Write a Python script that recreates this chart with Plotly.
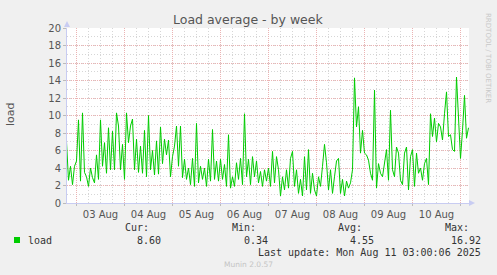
import plotly.graph_objects as go
import pandas as pd

# ---- data (hourly load average) ----
start_time = "2025-08-02 19:00"
load = [
    7.0, 2.6, 4.2, 2.1, 4.2,
    4.8, 9.5, 2.5, 10.3, 3.5, 3.0, 1.9, 4.0, 2.9, 2.3, 5.5, 2.7,
    9.5, 4.2, 6.9, 3.4, 8.6, 3.8, 8.2, 3.8, 10.3, 8.8, 3.8, 6.7,
    2.7, 10.3, 6.9, 8.8, 9.6, 3.8, 7.3, 3.5, 6.5, 3.4, 8.3, 3.0,
    10.0, 3.8, 6.0, 3.2, 7.1, 3.3, 8.7, 4.5, 7.3, 5.5, 7.2, 3.0,
    5.3, 6.5, 8.8, 4.2, 8.8, 2.9, 5.0, 2.7, 4.0, 2.1, 5.1, 1.9,
    9.1, 2.3, 4.2, 2.7, 4.0, 1.9, 5.0, 2.5, 8.4, 2.7, 4.8, 2.5,
    5.0, 2.7, 4.4, 1.9, 7.8, 1.7, 3.0, 1.9, 4.6, 2.7, 5.1, 2.1,
    10.2, 3.0, 5.0, 2.1, 5.3, 3.0, 4.8, 2.3, 3.6, 1.9, 3.8, 2.5,
    4.0, 1.9, 5.9, 2.3, 5.3, 3.8, 0.8, 3.0, 1.5, 3.8, 1.7, 5.1,
    5.9, 1.9, 3.8, 1.1, 2.7, 0.8, 5.3, 1.5, 6.1, 1.1, 3.4, 1.5,
    0.8, 3.0, 1.9, 4.2, 6.7, 4.6, 1.5, 3.8, 1.1, 3.0, 4.8, 5.1,
    1.1, 2.7, 0.8, 2.5, 1.7, 2.3, 3.8, 14.3, 8.7, 11.0, 5.7, 8.3,
    5.7, 5.5, 4.9, 3.4, 2.6, 12.9, 1.7, 4.5, 3.4, 3.0, 4.5, 6.1,
    2.6, 10.6, 3.8, 3.0, 6.4, 5.7, 2.6, 2.1, 5.7, 6.4, 1.5, 5.3,
    6.1, 1.9, 5.7, 3.4, 4.0, 2.6, 4.5, 5.1, 2.1, 10.2, 7.6, 9.7,
    7.0, 9.1, 8.7, 7.2, 10.2, 12.7, 7.6, 7.8, 6.1, 5.9, 14.4, 9.5,
    5.1, 8.3, 12.3, 7.4, 8.6,
]
y_ticks = list(range(0, 21, 2))
stats_labels = ["Cur:", "Min:", "Avg:", "Max:"]
stats_values = ["8.60", "0.34", "4.55", "16.92"]
series_name = "load"
title_text = "Load average - by week"
last_update = "Last update: Mon Aug 11 03:00:06 2025"
version_text = "Munin 2.0.57"
side_text = "RRDTOOL / TOBI OETIKER"

times = pd.date_range(start_time, periods=len(load), freq="h")

# ---- geometry helpers (pixel -> paper) ----
W, H = 497, 275
L, R, T, B = 67, 469, 28, 203
def px(x):
    return (x - L) / (R - L)
def py(y):
    return (B - y) / (B - T)

GREEN = "#00CC00"
TXT = "#555555"
MONO = "DejaVu Sans Mono"
SANS = "DejaVu Sans"
MAJ = "#EBB3B3"
MIN = "#D6D6D6"

fig = go.Figure()
fig.add_trace(go.Scatter(x=times, y=load, mode="lines",
                         line=dict(color=GREEN, width=1),
                         hoverinfo="skip", showlegend=False))

fig.update_layout(
    width=W, height=H, autosize=False,
    margin=dict(l=L, r=W - R, t=T, b=H - B, pad=0),
    paper_bgcolor="#F0F0F0", plot_bgcolor="#FFFFFF",
    font=dict(family=SANS, size=10, color=TXT),
    showlegend=False,
)
fig.update_yaxes(
    range=[0, 20], tickvals=y_ticks, ticks="outside", ticklen=3,
    tickcolor="#BBBBBB", tickfont=dict(family=SANS, size=10, color=TXT),
    showgrid=True, gridcolor=MAJ, griddash="1px,1px", gridwidth=1,
    minor=dict(dtick=1, showgrid=True, gridcolor=MIN, griddash="1px,2px"),
    showline=True, linecolor="#C8CCF2", linewidth=1, zeroline=False,
    fixedrange=True,
)
fig.update_xaxes(
    type="date", range=["2025-08-02 19:15", "2025-08-11 04:15"],
    tick0="2025-08-03", dtick=86400000, tickformat="%d %b",
    ticklabelmode="period", ticks="outside", ticklen=2, tickcolor="#BBBBBB",
    tickfont=dict(family=SANS, size=10, color=TXT),
    showgrid=True, gridcolor=MAJ, griddash="1px,1px", gridwidth=1,
    minor=dict(dtick=21600000, tick0="2025-08-03", showgrid=True,
               gridcolor=MIN, griddash="1px,2px"),
    showline=True, linecolor="#C8CCF2", linewidth=1, zeroline=False,
    fixedrange=True,
)

ann = []
ann.append(dict(text=title_text, x=px(248), y=py(20), xref="paper", yref="paper",
                showarrow=False, font=dict(family=SANS, size=12.5, color=TXT),
                xanchor="center", yanchor="middle"))
ann.append(dict(text=series_name, x=px(10), y=py(114), xref="paper", yref="paper",
                showarrow=False, textangle=-90, font=dict(family=SANS, size=11, color=TXT),
                xanchor="center", yanchor="middle"))
ann.append(dict(text=side_text, x=px(488), y=py(58), xref="paper", yref="paper",
                showarrow=False, textangle=90, font=dict(family=SANS, size=7, color="#C8C8C8"),
                xanchor="center", yanchor="middle"))
# legend row
ann.append(dict(text=series_name, x=px(26), y=py(240), xref="paper", yref="paper",
                showarrow=False, font=dict(family=MONO, size=10, color="#333333"),
                xanchor="left", yanchor="middle"))
head_right = [151, 258, 364, 471]
val_right = [163, 270, 376, 483]
for lab, hx, val, vx in zip(stats_labels, head_right, stats_values, val_right):
    ann.append(dict(text=lab, x=px(hx), y=py(227.5), xref="paper", yref="paper",
                    showarrow=False, font=dict(family=MONO, size=10, color="#333333"),
                    xanchor="right", yanchor="middle"))
    ann.append(dict(text=val, x=px(vx), y=py(240), xref="paper", yref="paper",
                    showarrow=False, font=dict(family=MONO, size=10, color="#333333"),
                    xanchor="right", yanchor="middle"))
ann.append(dict(text=last_update, x=px(483), y=py(252), xref="paper", yref="paper",
                showarrow=False, font=dict(family=MONO, size=10, color="#333333"),
                xanchor="right", yanchor="middle"))
ann.append(dict(text=version_text, x=px(248), y=py(264), xref="paper", yref="paper",
                showarrow=False, font=dict(family=SANS, size=7.5, color="#C4C4C4"),
                xanchor="center", yanchor="middle"))
fig.update_layout(annotations=ann)

shapes = []
# legend colour box
shapes.append(dict(type="rect", xref="paper", yref="paper",
                   x0=px(14), x1=px(20), y0=py(243), y1=py(237),
                   fillcolor=GREEN, line=dict(width=0)))
# axis arrows
shapes.append(dict(type="path", xref="paper", yref="paper",
                   path=f"M {px(64)} {py(27)} L {px(70)} {py(27)} L {px(67)} {py(21)} Z",
                   fillcolor="#C8CCF2", line=dict(width=0)))
shapes.append(dict(type="path", xref="paper", yref="paper",
                   path=f"M {px(469)} {py(200)} L {px(469)} {py(206)} L {px(475)} {py(203)} Z",
                   fillcolor="#C8CCF2", line=dict(width=0)))
fig.update_layout(shapes=shapes)

fig.write_html("out.html", config={"displayModeBar": False, "staticPlot": True})
